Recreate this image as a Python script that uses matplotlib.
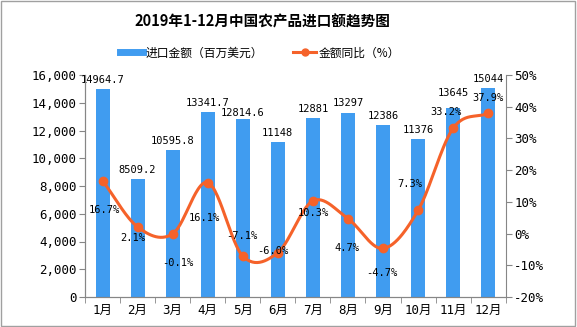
import numpy as np
import matplotlib
matplotlib.use('Agg')
from matplotlib import pyplot as plt
from matplotlib.lines import Line2D
from matplotlib.patches import Rectangle

plt.rcParams['font.family'] = ['Noto Sans CJK SC', 'DejaVu Sans']

months = ['1月', '2月', '3月', '4月', '5月', '6月', '7月', '8月', '9月', '10月', '11月', '12月']
import_value = [14964.7, 8509.2, 10595.8, 13341.7, 12814.6, 11148, 12881, 13297, 12386, 11376, 13645, 15044]
value_labels = ['14964.7', '8509.2', '10595.8', '13341.7', '12814.6', '11148',
                '12881', '13297', '12386', '11376', '13645', '15044']
yoy = [16.7, 2.1, -0.1, 16.1, -7.1, -6.0, 10.3, 4.7, -4.7, 7.3, 33.2, 37.9]

bar_color = '#409CF0'
line_color = '#F5622A'
axis_color = '#868686'
mono = ['DejaVu Sans Mono', 'Noto Sans CJK SC']


def smooth(x, y, n=30):
    # catmull-rom style smoothing, like the spreadsheet's "smoothed line"
    x = np.asarray(x, float)
    y = np.asarray(y, float)
    px = np.concatenate([[2 * x[0] - x[1]], x, [2 * x[-1] - x[-2]]])
    py = np.concatenate([[2 * y[0] - y[1]], y, [2 * y[-1] - y[-2]]])
    xs, ys = [], []
    t = np.linspace(0, 1, n)
    for i in range(1, len(px) - 2):
        for p, out in ((px, xs), (py, ys)):
            p0, p1, p2, p3 = p[i - 1], p[i], p[i + 1], p[i + 2]
            seg = 0.5 * ((2 * p1) + (-p0 + p2) * t + (2 * p0 - 5 * p1 + 4 * p2 - p3) * t ** 2
                         + (-p0 + 3 * p1 - 3 * p2 + p3) * t ** 3)
            out.extend(seg)
    return np.array(xs), np.array(ys)


fig = plt.figure(figsize=(5.77, 3.27), dpi=100)
ax = fig.add_axes([85 / 577, 30 / 327, 420.7 / 577, 222 / 327])
ax2 = ax.twinx()

x = np.arange(len(months))
ax.bar(x, import_value, width=0.4, color=bar_color, zorder=2)
ax.set_xlim(-0.5, 11.5)
ax.set_ylim(0, 16000)
ax.set_yticks(np.arange(0, 16001, 2000))
ax.set_yticklabels([f'{v:,}' for v in range(0, 16001, 2000)], family=mono)
ax.set_xticks(x)
ax.set_xticklabels(months, family=mono)
ax.set_xticks(np.arange(-0.5, 12, 1), minor=True)
ax.tick_params(axis='x', which='major', length=0, labelsize=9, pad=5)
ax.tick_params(axis='x', which='minor', length=4, color=axis_color, direction='out')
ax.tick_params(axis='y', length=4, color=axis_color, labelsize=9, pad=2)

label_lift = [3, 3, 3, 3, 1, 3, 3, 3, 3, 3, 7, 3]
for i, v in enumerate(import_value):
    ax.annotate(value_labels[i], (i, v), xytext=(0, label_lift[i]), textcoords='offset points',
                ha='center', va='bottom', fontsize=7.5, family='DejaVu Sans Mono')

sx, sy = smooth(x, yoy)
ax2.plot(sx, sy, color=line_color, lw=2.2, zorder=3)
ax2.plot(x, yoy, 'o', color=line_color, ms=6, zorder=4)
ax2.set_ylim(-20, 50)
ax2.set_yticks(np.arange(-20, 51, 10))
ax2.set_yticklabels([f'{v}%' for v in range(-20, 51, 10)], family=mono)
ax2.tick_params(axis='y', length=4, color=axis_color, labelsize=9, pad=2)

offsets = [(2, -29), (-5, -11), (5, -29), (-3, -35), (-1, 20), (-5, 2),
           (0, -12), (-1, -29), (-1, -25), (-8, 26), (-7, 16), (0, 15)]
for i, v in enumerate(yoy):
    ax2.annotate(f'{v}%', (i, v), xytext=offsets[i], textcoords='offset pixels',
                 ha='center', va='center', fontsize=7.5, family='DejaVu Sans Mono', zorder=5)

for a in (ax, ax2):
    a.spines['top'].set_visible(False)
    for s in ('left', 'right', 'bottom'):
        a.spines[s].set_color(axis_color)
ax.spines['right'].set_visible(False)

fig.text(262 / 577, 1 - 22 / 327, '2019年1-12月中国农产品进口额趋势图', ha='center', va='center',
         fontsize=10.5, fontweight='bold')

handles = [Line2D([], [], color=bar_color, lw=5),
           Line2D([], [], color=line_color, lw=2.2, marker='o', ms=5)]
fig.legend(handles, ['进口金额（百万美元）', '金额同比（%）'], loc='center',
           bbox_to_anchor=(260 / 577, 1 - 53 / 327), ncol=2, frameon=False, fontsize=8.5,
           handlelength=2.0, columnspacing=2.5, handletextpad=0.2)

fig.patches.append(Rectangle((0.002, 0.003), 0.995, 0.994, transform=fig.transFigure,
                             fill=False, edgecolor='#A0A0A0', lw=1))

fig.savefig('out.png', dpi=100)
